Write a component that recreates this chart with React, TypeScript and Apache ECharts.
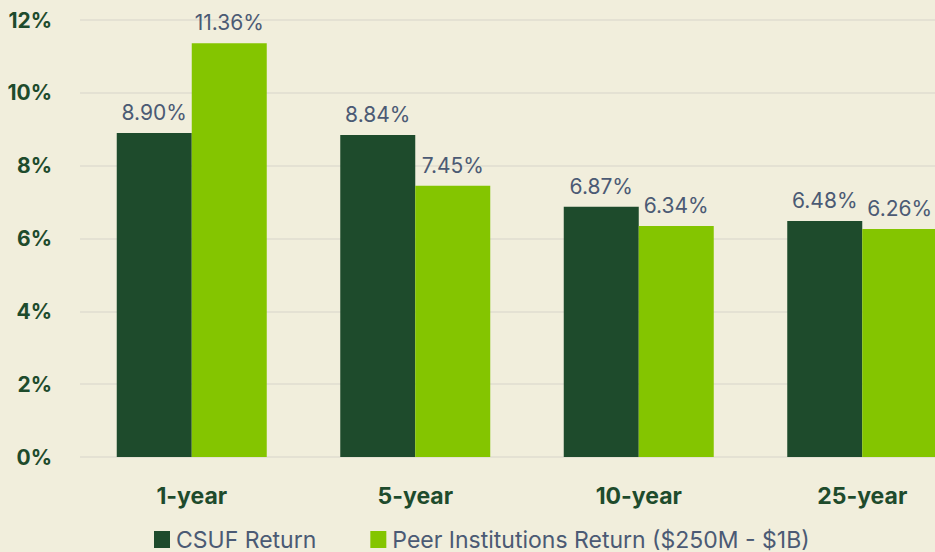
import React, { useEffect, useRef } from "react";
import * as echarts from "echarts";

const categories = ["1-year", "5-year", "10-year", "25-year"];
const csufReturn = [8.9, 8.84, 6.87, 6.48];
const peerReturn = [11.36, 7.45, 6.34, 6.26];
const seriesNames = ["CSUF Return", "Peer Institutions Return ($250M - $1B)"];

const FONT = "Inter, 'Open Sans', sans-serif";

export default function App() {
  const ref = useRef<HTMLDivElement>(null);
  useEffect(() => {
    if (!ref.current) return;
    const chart = echarts.init(ref.current, undefined, { renderer: "svg" });
    const labelStyle = {
      show: true,
      position: "top" as const,
      distance: 10,
      color: "#4b5a74",
      fontSize: 21,
      fontFamily: FONT,
      fontWeight: 400 as const,
      formatter: (p: any) => p.value.toFixed(2) + "%",
    };
    chart.setOption({
      animation: false,
      backgroundColor: "#f1eedc",
      grid: { left: 80, top: 20, width: 894, height: 437, containLabel: false, outerBoundsMode: "none" },
      legend: {
        left: 154,
        top: 528,
        padding: 0,
        itemWidth: 16,
        itemHeight: 17,
        itemGap: 54,
        icon: "rect",
        textStyle: { color: "#4b5a74", fontSize: 23, lineHeight: 22, fontFamily: FONT, padding: [0, 0, 0, 1] },
        data: seriesNames,
      },
      xAxis: {
        type: "category",
        data: categories,
        axisLine: { show: false },
        axisTick: { show: false },
        axisLabel: {
          color: "#1e4b2c",
          fontSize: 23,
          fontWeight: 700,
          fontFamily: FONT,
          margin: 27,
        },
      },
      yAxis: {
        type: "value",
        min: 0,
        max: 12,
        interval: 2,
        axisLine: { show: false },
        axisTick: { show: false },
        splitLine: { lineStyle: { color: "#dfdcd0", width: 1.5 } },
        axisLabel: {
          color: "#1e4b2c",
          fontSize: 21,
          fontWeight: 700,
          fontFamily: FONT,
          margin: 28,
          formatter: (v: number) => v + "%",
        },
      },
      series: [
        {
          name: seriesNames[0],
          type: "bar",
          data: csufReturn,
          barWidth: 75,
          barGap: "0%",
          itemStyle: { color: "#1e4b2c" },
          label: labelStyle,
        },
        {
          name: seriesNames[1],
          type: "bar",
          data: peerReturn,
          barWidth: 75,
          barGap: "0%",
          itemStyle: { color: "#84c500" },
          label: labelStyle,
        },
      ],
    });
    return () => chart.dispose();
  }, []);
  return <div ref={ref} style={{ width: 935, height: 552, position: "absolute", left: 0, top: 0 }} />;
}
